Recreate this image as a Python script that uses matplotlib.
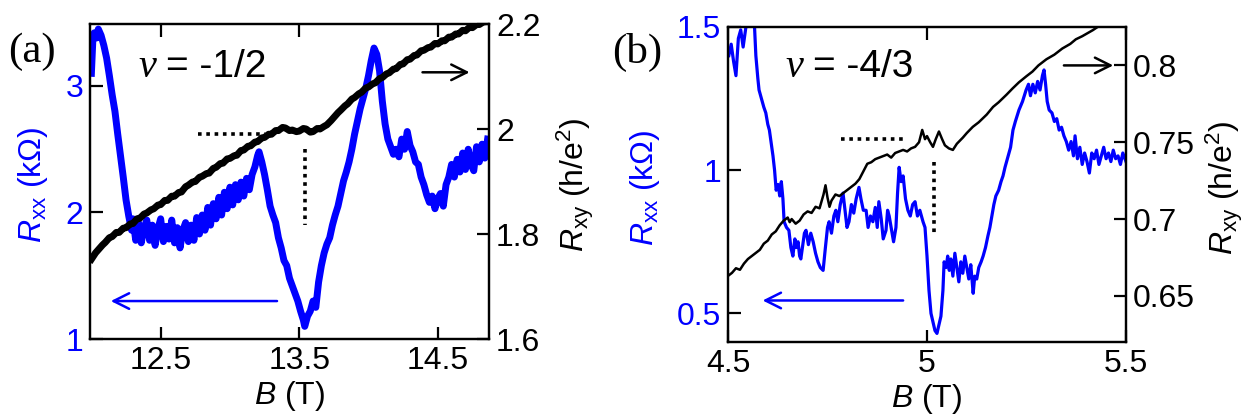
import numpy as np
import matplotlib
matplotlib.use('Agg')
import matplotlib.pyplot as plt

plt.rcParams['font.family'] = 'Liberation Sans'
plt.rcParams['mathtext.fontset'] = 'custom'
plt.rcParams['mathtext.rm'] = 'Liberation Sans'
plt.rcParams['mathtext.it'] = 'Liberation Sans:italic'

# panel (a): nu = -1/2, (B [T], Rxx [kOhm]) and (B [T], Rxy [h/e^2])
rxx_a = [(12.00, 3.10), (12.01, 3.35), (12.02, 3.42), (12.04, 3.38), (12.05, 3.45), (12.07, 3.40),
         (12.09, 3.32), (12.11, 3.22), (12.13, 3.08), (12.15, 2.93), (12.17, 2.80), (12.19, 2.62),
         (12.21, 2.45), (12.23, 2.28), (12.25, 2.10), (12.27, 1.97), (12.29, 1.86), (12.30, 1.95),
         (12.32, 1.78), (12.34, 1.92), (12.36, 1.76), (12.38, 1.88), (12.40, 1.94), (12.42, 1.78),
         (12.44, 1.90), (12.46, 1.74), (12.48, 1.87), (12.50, 1.95), (12.52, 1.77), (12.54, 1.89),
         (12.56, 1.79), (12.58, 1.94), (12.60, 1.76), (12.62, 1.88), (12.64, 1.72), (12.66, 1.86),
         (12.68, 1.92), (12.70, 1.77), (12.72, 1.90), (12.74, 1.78), (12.76, 1.96), (12.78, 1.83),
         (12.80, 1.98), (12.82, 1.86), (12.84, 2.04), (12.86, 1.90), (12.88, 2.07), (12.90, 1.95),
         (12.92, 2.12), (12.94, 1.98), (12.96, 2.16), (12.98, 2.03), (13.00, 2.20), (13.02, 2.06),
         (13.04, 2.22), (13.06, 2.10), (13.08, 2.24), (13.10, 2.13), (13.12, 2.27), (13.14, 2.18),
         (13.16, 2.30), (13.18, 2.36), (13.20, 2.45), (13.21, 2.48), (13.23, 2.40), (13.25, 2.30),
         (13.27, 2.18), (13.29, 2.05), (13.31, 1.98), (13.33, 1.92), (13.35, 1.80), (13.37, 1.72),
         (13.39, 1.62), (13.41, 1.58), (13.43, 1.48), (13.45, 1.42), (13.47, 1.36), (13.49, 1.30),
         (13.51, 1.22), (13.53, 1.15), (13.54, 1.10), (13.56, 1.18), (13.58, 1.22), (13.60, 1.30),
         (13.62, 1.25), (13.64, 1.45), (13.66, 1.58), (13.68, 1.68), (13.70, 1.75), (13.72, 1.80),
         (13.74, 1.90), (13.76, 1.98), (13.78, 2.05), (13.80, 2.15), (13.82, 2.25), (13.84, 2.32),
         (13.86, 2.40), (13.88, 2.50), (13.90, 2.62), (13.92, 2.72), (13.94, 2.82), (13.96, 2.90),
         (13.98, 2.98), (14.00, 3.08), (14.02, 3.20), (14.04, 3.30), (14.06, 3.25), (14.08, 3.12),
         (14.10, 2.88), (14.12, 2.70), (14.14, 2.58), (14.16, 2.52), (14.18, 2.46), (14.20, 2.50),
         (14.22, 2.44), (14.24, 2.58), (14.26, 2.50), (14.28, 2.64), (14.30, 2.53), (14.32, 2.48),
         (14.34, 2.40), (14.36, 2.38), (14.38, 2.28), (14.40, 2.22), (14.42, 2.14), (14.44, 2.08),
         (14.46, 2.13), (14.48, 2.03), (14.50, 2.11), (14.52, 2.15), (14.54, 2.05), (14.56, 2.22),
         (14.58, 2.28), (14.60, 2.38), (14.62, 2.28), (14.64, 2.42), (14.66, 2.32), (14.68, 2.47),
         (14.70, 2.34), (14.72, 2.50), (14.74, 2.38), (14.76, 2.33), (14.78, 2.52), (14.80, 2.40),
         (14.82, 2.54), (14.84, 2.43), (14.86, 2.58)]

rxy_a = [(12.00, 1.752), (12.03, 1.764), (12.05, 1.770), (12.08, 1.779), (12.10, 1.784), (12.13, 1.793),
         (12.15, 1.795), (12.18, 1.803), (12.20, 1.803), (12.23, 1.811), (12.25, 1.812), (12.28, 1.819),
         (12.30, 1.820), (12.33, 1.829), (12.35, 1.830), (12.38, 1.838), (12.40, 1.840), (12.43, 1.846),
         (12.45, 1.848), (12.48, 1.855), (12.50, 1.856), (12.53, 1.864), (12.55, 1.864), (12.58, 1.872),
         (12.60, 1.872), (12.63, 1.879), (12.65, 1.880), (12.68, 1.890), (12.70, 1.893), (12.73, 1.899),
         (12.75, 1.900), (12.78, 1.908), (12.80, 1.910), (12.83, 1.915), (12.85, 1.916), (12.88, 1.925),
         (12.90, 1.927), (12.93, 1.934), (12.95, 1.935), (12.98, 1.943), (13.00, 1.944), (13.03, 1.949),
         (13.05, 1.950), (13.08, 1.959), (13.10, 1.960), (13.13, 1.967), (13.15, 1.968), (13.18, 1.975),
         (13.20, 1.976), (13.23, 1.983), (13.25, 1.984), (13.28, 1.990), (13.30, 1.990), (13.33, 1.997),
         (13.35, 1.997), (13.38, 2.003), (13.40, 2.002), (13.43, 1.997), (13.45, 1.998), (13.48, 1.995),
         (13.50, 1.996), (13.53, 2.001), (13.55, 2.000), (13.58, 1.994), (13.60, 1.995), (13.63, 2.001),
         (13.65, 2.000), (13.68, 2.005), (13.70, 2.008), (13.73, 2.016), (13.75, 2.022), (13.78, 2.031),
         (13.80, 2.036), (13.83, 2.044), (13.85, 2.048), (13.88, 2.057), (13.90, 2.060), (13.93, 2.067),
         (13.95, 2.070), (13.98, 2.078), (14.00, 2.080), (14.03, 2.086), (14.05, 2.088), (14.08, 2.096),
         (14.10, 2.098), (14.13, 2.105), (14.15, 2.107), (14.18, 2.114), (14.20, 2.115), (14.23, 2.123),
         (14.25, 2.124), (14.28, 2.132), (14.30, 2.133), (14.33, 2.140), (14.35, 2.141), (14.38, 2.149),
         (14.40, 2.150), (14.43, 2.155), (14.45, 2.156), (14.48, 2.163), (14.50, 2.162), (14.53, 2.168),
         (14.55, 2.168), (14.58, 2.175), (14.60, 2.175), (14.63, 2.181), (14.65, 2.181), (14.68, 2.188),
         (14.70, 2.187), (14.73, 2.194), (14.75, 2.193), (14.78, 2.199), (14.80, 2.199), (14.83, 2.204),
         (14.86, 2.205)]

# panel (b): nu = -4/3
rxx_b = [(4.502, 1.40), (4.508, 1.44), (4.514, 1.38), (4.520, 1.33), (4.526, 1.46), (4.532, 1.49),
         (4.538, 1.43), (4.545, 1.50), (4.552, 1.55), (4.560, 1.58), (4.566, 1.52), (4.570, 1.40),
         (4.575, 1.32), (4.578, 1.28), (4.584, 1.25), (4.590, 1.22), (4.595, 1.20), (4.600, 1.16),
         (4.604, 1.14), (4.608, 1.10), (4.613, 1.05), (4.617, 1.00), (4.621, 0.93), (4.626, 0.95),
         (4.630, 0.91), (4.634, 0.96), (4.638, 0.90), (4.641, 0.82), (4.647, 0.80), (4.653, 0.79),
         (4.658, 0.73), (4.663, 0.70), (4.668, 0.76), (4.672, 0.73), (4.676, 0.75), (4.680, 0.70),
         (4.683, 0.69), (4.688, 0.74), (4.692, 0.78), (4.696, 0.79), (4.702, 0.74), (4.708, 0.78),
         (4.714, 0.75), (4.720, 0.71), (4.726, 0.68), (4.732, 0.66), (4.739, 0.65), (4.744, 0.72),
         (4.750, 0.80), (4.754, 0.82), (4.760, 0.78), (4.766, 0.84), (4.771, 0.86), (4.776, 0.82),
         (4.782, 0.88), (4.789, 0.92), (4.794, 0.86), (4.799, 0.80), (4.804, 0.82), (4.810, 0.88),
         (4.816, 0.85), (4.822, 0.90), (4.829, 0.94), (4.834, 0.90), (4.840, 0.86), (4.847, 0.86),
         (4.852, 0.80), (4.858, 0.84), (4.864, 0.82), (4.870, 0.87), (4.875, 0.80), (4.879, 0.89),
         (4.885, 0.83), (4.890, 0.76), (4.897, 0.79), (4.901, 0.86), (4.905, 0.84), (4.910, 0.80),
         (4.916, 0.75), (4.922, 0.80), (4.926, 0.92), (4.930, 1.01), (4.935, 0.96), (4.940, 0.98),
         (4.946, 0.90), (4.952, 0.86), (4.958, 0.84), (4.964, 0.88), (4.970, 0.89), (4.976, 0.84),
         (4.982, 0.86), (4.990, 0.82), (4.995, 0.80), (5.000, 0.70), (5.005, 0.58), (5.010, 0.50),
         (5.015, 0.47), (5.020, 0.44), (5.025, 0.43), (5.030, 0.46), (5.035, 0.49), (5.040, 0.58),
         (5.043, 0.68), (5.048, 0.66), (5.052, 0.70), (5.056, 0.65), (5.060, 0.69), (5.065, 0.63),
         (5.070, 0.71), (5.075, 0.66), (5.080, 0.61), (5.085, 0.68), (5.090, 0.64), (5.095, 0.70),
         (5.100, 0.66), (5.105, 0.62), (5.110, 0.67), (5.116, 0.57), (5.120, 0.63), (5.125, 0.62),
         (5.130, 0.66), (5.136, 0.68), (5.141, 0.70), (5.147, 0.73), (5.153, 0.77), (5.158, 0.80),
         (5.163, 0.84), (5.168, 0.88), (5.173, 0.91), (5.180, 0.93), (5.186, 0.96), (5.191, 0.98),
         (5.196, 1.01), (5.204, 1.05), (5.210, 1.08), (5.216, 1.14), (5.222, 1.17), (5.231, 1.21),
         (5.240, 1.24), (5.249, 1.28), (5.255, 1.30), (5.260, 1.26), (5.266, 1.30), (5.272, 1.27),
         (5.278, 1.31), (5.284, 1.28), (5.290, 1.33), (5.294, 1.35), (5.298, 1.30), (5.302, 1.24),
         (5.307, 1.21), (5.314, 1.20), (5.320, 1.17), (5.326, 1.18), (5.332, 1.14), (5.338, 1.15),
         (5.344, 1.12), (5.350, 1.10), (5.356, 1.07), (5.362, 1.10), (5.368, 1.05), (5.372, 1.12),
         (5.378, 1.04), (5.384, 1.08), (5.390, 1.02), (5.396, 1.06), (5.402, 1.03), (5.408, 0.99),
         (5.414, 1.06), (5.420, 1.04), (5.426, 1.07), (5.432, 1.02), (5.438, 1.05), (5.444, 1.08),
         (5.450, 1.04), (5.456, 1.06), (5.462, 1.03), (5.468, 1.07), (5.474, 1.04), (5.480, 1.05),
         (5.486, 1.02), (5.492, 1.06), (5.500, 1.03)]

rxy_b = [(4.500, 0.663), (4.510, 0.665), (4.520, 0.668), (4.530, 0.667), (4.540, 0.671), (4.550, 0.674),
         (4.560, 0.676), (4.570, 0.678), (4.580, 0.680), (4.590, 0.684), (4.600, 0.686), (4.610, 0.690),
         (4.620, 0.692), (4.630, 0.696), (4.640, 0.699), (4.650, 0.701), (4.655, 0.698), (4.660, 0.700),
         (4.670, 0.697), (4.680, 0.699), (4.690, 0.703), (4.700, 0.705), (4.710, 0.704), (4.720, 0.708),
         (4.730, 0.707), (4.740, 0.716), (4.745, 0.722), (4.750, 0.714), (4.755, 0.708), (4.760, 0.712),
         (4.770, 0.716), (4.780, 0.715), (4.790, 0.717), (4.800, 0.719), (4.810, 0.721), (4.820, 0.723),
         (4.830, 0.726), (4.840, 0.731), (4.850, 0.736), (4.860, 0.737), (4.870, 0.739), (4.880, 0.740),
         (4.890, 0.741), (4.900, 0.742), (4.910, 0.740), (4.920, 0.743), (4.930, 0.744), (4.940, 0.745),
         (4.950, 0.744), (4.960, 0.746), (4.970, 0.747), (4.980, 0.750), (4.988, 0.758), (4.995, 0.752),
         (5.000, 0.754), (5.008, 0.750), (5.015, 0.747), (5.022, 0.752), (5.030, 0.757), (5.038, 0.752),
         (5.045, 0.748), (5.055, 0.746), (5.065, 0.745), (5.075, 0.749), (5.090, 0.753), (5.100, 0.756),
         (5.115, 0.760), (5.130, 0.763), (5.150, 0.768), (5.166, 0.773), (5.180, 0.776), (5.200, 0.781),
         (5.215, 0.785), (5.231, 0.789), (5.250, 0.793), (5.265, 0.796), (5.280, 0.800), (5.300, 0.804),
         (5.320, 0.807), (5.340, 0.811), (5.360, 0.814), (5.374, 0.817), (5.390, 0.819), (5.417, 0.823),
         (5.440, 0.827), (5.460, 0.830)]

BLUE = '#0000ff'
FS = 23


def setup_panel(rect, rxx, rxy, xlim, ylim_l, ylim_r, xticks, yticks_l, yticks_r,
                lw_l, lw_r, lab_l, lab_r):
    ax = fig.add_axes(rect)
    tw = ax.twinx()
    b, r = np.array(rxx).T
    ax.plot(b, r, color=BLUE, lw=lw_l, zorder=2)
    b, r = np.array(rxy).T
    tw.plot(b, r, color='black', lw=lw_r, zorder=3)
    ax.set_xlim(xlim)
    ax.set_ylim(ylim_l)
    tw.set_ylim(ylim_r)
    ax.set_xticks(xticks)
    ax.set_xticklabels([f'{t:g}' for t in xticks])
    ax.set_yticks(yticks_l)
    ax.set_yticklabels([f'{t:g}' for t in yticks_l])
    tw.set_yticks(yticks_r)
    tw.set_yticklabels([f'{t:g}' for t in yticks_r])
    ax.tick_params(axis='x', direction='in', top=True, length=9, width=1.6,
                   labelsize=FS, pad=5)
    ax.tick_params(axis='y', direction='in', length=9, width=1.6, labelsize=FS,
                   pad=5, labelcolor=BLUE)
    tw.tick_params(axis='y', direction='in', length=9, width=1.6, labelsize=FS, pad=5)
    for a in (ax, tw):
        for s in a.spines.values():
            s.set_linewidth(1.6)
    ax.set_xlabel(r'$B$ (T)', fontsize=FS, labelpad=2)
    ax.set_ylabel(r'$R_{\mathrm{xx}}$ (kΩ)', fontsize=FS, color=BLUE)
    ax.yaxis.set_label_coords(lab_l, 0.49)
    tw.set_ylabel(r'$R_{\mathrm{xy}}$ (h/e$^2$)', fontsize=FS, color='black')
    tw.yaxis.set_label_coords(lab_r, 0.49)
    return ax, tw


fig = plt.figure(figsize=(12.55, 4.19), dpi=100)

ax_a, tw_a = setup_panel([90 / 1255, 80 / 419, 399 / 1255, 315 / 419], rxx_a, rxy_a,
                         (11.99, 14.87), (1.0, 3.49), (1.6, 2.2),
                         [12.5, 13.5, 14.5], [1, 2, 3], [1.6, 1.8, 2.0, 2.2],
                         5.0, 5.0, -0.10, 1.165)
ax_b, tw_b = setup_panel([728 / 1255, 77 / 419, 398 / 1255, 315 / 419], rxx_b, rxy_b,
                         (4.5, 5.5), (0.4, 1.5), (0.62, 0.825),
                         [4.5, 5.0, 5.5], [0.5, 1.0, 1.5], [0.65, 0.7, 0.75, 0.8],
                         2.3, 1.8, -0.165, 1.195)

# guide lines
tw_a.plot([12.77, 13.25], [1.99, 1.99], color='black', ls=(0, (1, 1.3)), lw=2.6)
tw_a.plot([13.54, 13.54], [1.962, 1.817], color='black', ls=(0, (1, 1.3)), lw=2.6)
tw_b.plot([4.784, 4.947], [0.752, 0.752], color='black', ls=(0, (1, 1.3)), lw=2.6)
tw_b.plot([5.018, 5.018], [0.737, 0.689], color='black', ls=(0, (1, 1.3)), lw=2.6)

# axis arrows
arr = dict(arrowstyle='->', lw=1.8, mutation_scale=28)
ax_a.annotate('', xy=(12.12, 1.30), xytext=(13.36, 1.30),
              arrowprops=dict(arr, color=BLUE))
tw_a.annotate('', xy=(14.75, 2.108), xytext=(14.37, 2.108),
              arrowprops=dict(arr, color='black'))
ax_b.annotate('', xy=(4.58, 0.545), xytext=(4.947, 0.545),
              arrowprops=dict(arr, color=BLUE))
tw_b.annotate('', xy=(5.475, 0.80), xytext=(5.337, 0.80),
              arrowprops=dict(arr, color='black'))

# panel tags and filling factors
fig.text(8 / 1255, 1 - 52 / 419, '(a)', family='Liberation Serif', fontsize=31, va='center')
fig.text(612 / 1255, 1 - 52 / 419, '(b)', family='Liberation Serif', fontsize=31, va='center')
fig.text(138 / 1255, 1 - 77 / 419, 'ν', family='Liberation Serif', style='italic',
         fontsize=29, va='baseline')
fig.text(166 / 1255, 1 - 77 / 419, '= -1/2', fontsize=28, va='baseline')
fig.text(785 / 1255, 1 - 77 / 419, 'ν', family='Liberation Serif', style='italic',
         fontsize=29, va='baseline')
fig.text(813 / 1255, 1 - 77 / 419, '= -4/3', fontsize=28, va='baseline')

fig.savefig('out.png', dpi=100)
